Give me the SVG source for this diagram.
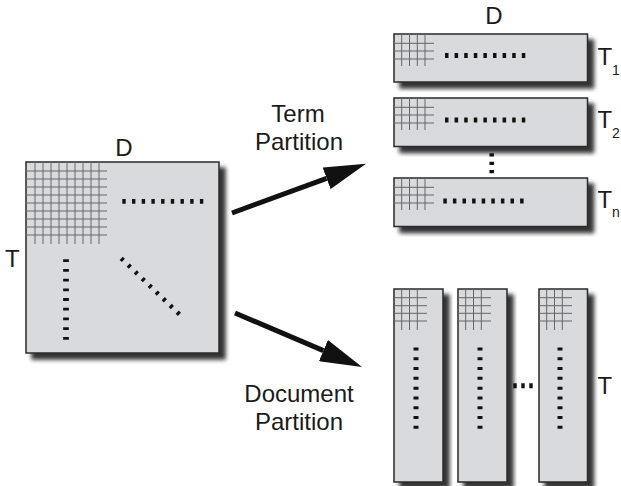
<svg xmlns="http://www.w3.org/2000/svg" width="621" height="486" viewBox="0 0 621 486">
<defs>
<filter id="sh" x="-10%" y="-10%" width="130%" height="130%">
<feGaussianBlur in="SourceAlpha" stdDeviation="2.2"/>
<feOffset dx="6" dy="6"/>
<feComponentTransfer><feFuncA type="linear" slope="0.8"/></feComponentTransfer>
<feMerge><feMergeNode/><feMergeNode in="SourceGraphic"/></feMerge>
</filter>
<marker id="ah" viewBox="0 0 42 23" refX="0" refY="11.5" markerWidth="42" markerHeight="23" markerUnits="userSpaceOnUse" orient="auto">
<path d="M0,0 L42,11.5 L0,23 Z" fill="#111"/>
</marker>
</defs>
<style>
.box{fill:#d9dadd;stroke:#2a2a2a;stroke-width:1.5;filter:url(#sh)}
.grid{fill:none;stroke:#666;stroke-width:1}
.dots{fill:none;stroke:#111;}
.lbl{font-family:"Liberation Sans",Arial,sans-serif;font-size:24px;fill:#1a1a1a}
.sub{font-family:"Liberation Sans",Arial,sans-serif;font-size:14px;fill:#1a1a1a}
.arrow{fill:none;stroke:#111;stroke-width:5}
</style>
<rect width="621" height="486" fill="#ffffff"/>

<g id="matrix">
<rect class="box" x="26" y="162" width="193" height="191"/>
<path class="grid" d="M35,162V244M43,162V244M51,162V244M59,162V244M67,162V244M75,162V244M83,162V244M91,162V244M99,162V244M26,171H107M26,179H107M26,187H107M26,195H107M26,203H107M26,211H107M26,219H107M26,227H107M26,235H107"/>
<line class="dots" x1="122.3" y1="201.3" x2="203.3" y2="201.3" stroke-width="4.7" stroke-dasharray="3.4 6.3"/>
<line class="dots" x1="66" y1="259.3" x2="66" y2="340" stroke-width="5.7" stroke-dasharray="2.8 6.9"/>
<line class="dots" x1="121.2" y1="258.3" x2="179.4" y2="314.3" stroke-width="4.5" stroke-dasharray="3 6.72"/>
<text class="lbl" x="124" y="156" text-anchor="middle">D</text>
<text class="lbl" x="5" y="267">T</text>
</g>

<g id="term1">
<rect class="box" x="394" y="34" width="193.5" height="48"/>
<path class="grid" d="M401.7,34V66M409.5,34V66M417.3,34V66M425,34V66M394,43.3H434M394,51H434M394,59H434"/>
<line class="dots" x1="445" y1="55.5" x2="525.3" y2="55.5" stroke-width="5" stroke-dasharray="3.5 6.1"/>
<text class="lbl" x="597.5" y="65">T</text>
<text class="sub" x="612" y="75">1</text>
</g>

<g id="term2">
<rect class="box" x="394" y="98" width="193.5" height="48.5"/>
<path class="grid" d="M401.7,98V130M409.5,98V130M417.3,98V130M425,98V130M394,107.3H434M394,115H434M394,123H434"/>
<line class="dots" x1="445" y1="120" x2="525.3" y2="120" stroke-width="5" stroke-dasharray="3.5 6.1"/>
<text class="lbl" x="597.5" y="128">T</text>
<text class="sub" x="612" y="138">2</text>
</g>

<g id="termn">
<rect class="box" x="394" y="178" width="193.5" height="48.5"/>
<path class="grid" d="M401.7,178V210M409.5,178V210M417.3,178V210M425,178V210M394,187.3H434M394,195H434M394,203H434"/>
<line class="dots" x1="443.3" y1="201" x2="523.6" y2="201" stroke-width="5" stroke-dasharray="3.5 6.1"/>
<text class="lbl" x="597.5" y="208">T</text>
<text class="sub" x="612" y="217">n</text>
</g>

<g id="term-gap">
<line class="dots" x1="491.7" y1="153.3" x2="491.7" y2="173.3" stroke-width="4.5" stroke-dasharray="3.3 5.05"/>
<text class="lbl" x="494" y="24" text-anchor="middle">D</text>
</g>

<g id="doc1">
<rect class="box" x="394" y="289" width="49" height="193"/>
<path class="grid" d="M401.7,289V330M409.5,289V330M417.3,289V330M394,297.7H427M394,305.7H427M394,313.3H427M394,321H427"/>
<line class="dots" x1="416" y1="347.5" x2="416" y2="428.8" stroke-width="5" stroke-dasharray="3 6.79"/>
</g>

<g id="doc2">
<rect class="box" x="458" y="289" width="49" height="193"/>
<path class="grid" d="M465.7,289V330M473.5,289V330M481.3,289V330M458,297.7H491M458,305.7H491M458,313.3H491M458,321H491"/>
<line class="dots" x1="480" y1="347.5" x2="480" y2="428.8" stroke-width="5" stroke-dasharray="3 6.79"/>
</g>

<g id="doc3">
<rect class="box" x="539" y="289" width="48.5" height="193"/>
<path class="grid" d="M546.7,289V330M554.5,289V330M562.3,289V330M539,297.7H572M539,305.7H572M539,313.3H572M539,321H572"/>
<line class="dots" x1="560" y1="347.5" x2="560" y2="428.8" stroke-width="5" stroke-dasharray="3 6.79"/>
</g>

<g id="doc-gap">
<line class="dots" x1="513.3" y1="385.7" x2="532.7" y2="385.7" stroke-width="5" stroke-dasharray="3.4 4.6"/>
<text class="lbl" x="597.5" y="394">T</text>
</g>

<g id="connectors">
<line class="arrow" x1="232" y1="213" x2="326.6" y2="178.3" marker-end="url(#ah)"/>
<line class="arrow" x1="235" y1="313" x2="323.4" y2="350.6" marker-end="url(#ah)"/>
</g>

<g id="labels">
<text class="lbl" x="298" y="122" text-anchor="middle">Term</text>
<text class="lbl" x="299" y="150" text-anchor="middle">Partition</text>
<text class="lbl" x="299" y="402" text-anchor="middle">Document</text>
<text class="lbl" x="299" y="430" text-anchor="middle">Partition</text>
</g>
</svg>
